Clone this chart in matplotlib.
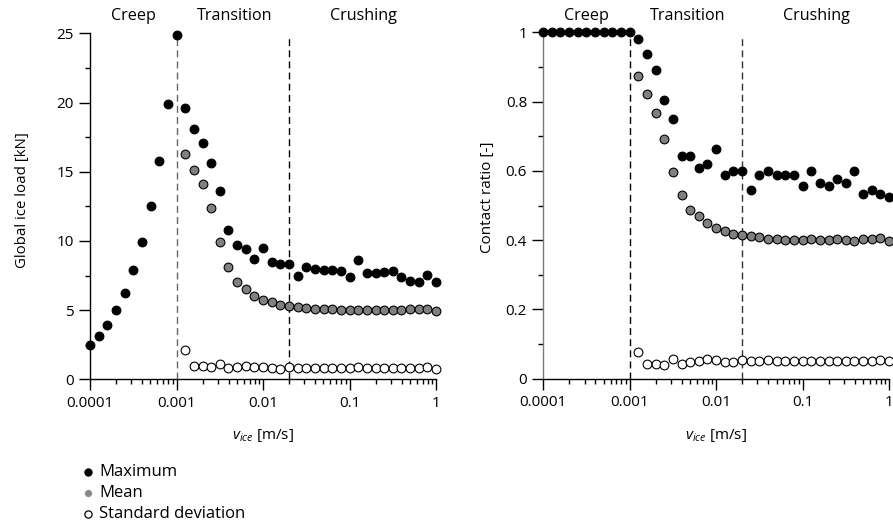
import matplotlib
matplotlib.use("Agg")
import matplotlib.pyplot as plt
from matplotlib.lines import Line2D
from matplotlib.ticker import FixedLocator, LogLocator, NullFormatter, FixedFormatter

plt.rcParams['font.family'] = ['Open Sans', 'DejaVu Sans']
plt.rcParams['font.size'] = 11
plt.rcParams['mathtext.fontset'] = 'custom'
plt.rcParams['mathtext.it'] = 'Open Sans:italic'
plt.rcParams['mathtext.rm'] = 'Open Sans'

# Ice speeds [m/s] of the test series
speeds = [1.00e-4, 1.26e-4, 1.58e-4, 2.00e-4, 2.51e-4, 3.16e-4, 3.98e-4, 5.01e-4, 6.31e-4, 7.94e-4,
          1.00e-3, 1.26e-3, 1.58e-3, 2.00e-3, 2.51e-3, 3.16e-3, 3.98e-3, 5.01e-3, 6.31e-3, 7.94e-3,
          1.00e-2, 1.26e-2, 1.58e-2, 2.00e-2, 2.51e-2, 3.16e-2, 3.98e-2, 5.01e-2, 6.31e-2, 7.94e-2,
          1.00e-1, 1.26e-1, 1.58e-1, 2.00e-1, 2.51e-1, 3.16e-1, 3.98e-1, 5.01e-1, 6.31e-1, 7.94e-1,
          1.0]
speeds_dyn = speeds[11:]   # speeds with mean / std statistics

# Global ice load [kN]
load_max = [2.5, 3.1, 3.9, 5.0, 6.25, 7.9, 9.9, 12.5, 15.8, 19.9, 24.9,
            19.6, 18.1, 17.1, 15.6, 13.6, 10.8, 9.7, 9.4, 8.7, 9.5,
            8.5, 8.3, 8.35, 7.5, 8.1, 8.0, 7.9, 7.9, 7.85, 7.4,
            8.6, 7.7, 7.7, 7.75, 7.85, 7.4, 7.1, 7.0, 7.55, 7.05]
load_mean = [16.3, 15.1, 14.1, 12.4, 9.95, 8.1, 7.0, 6.5, 6.0, 5.7,
             5.55, 5.4, 5.3, 5.2, 5.17, 5.1, 5.08, 5.05, 5.0, 4.98,
             5.0, 5.0, 4.98, 4.98, 5.0, 5.0, 5.05, 5.05, 5.1, 4.95]
load_std = [2.14, 0.96, 0.96, 0.87, 1.13, 0.79, 0.87, 0.94, 0.91, 0.87,
            0.79, 0.77, 0.87, 0.79, 0.82, 0.84, 0.82, 0.79, 0.79, 0.79,
            0.87, 0.79, 0.79, 0.79, 0.79, 0.79, 0.79, 0.79, 0.91, 0.74]

# Contact ratio [-]
cr_max = [1.0, 1.0, 1.0, 1.0, 1.0, 1.0, 1.0, 1.0, 1.0, 1.0, 1.0,
          0.98, 0.936, 0.892, 0.805, 0.751, 0.642, 0.642, 0.609, 0.621, 0.664,
          0.587, 0.599, 0.599, 0.545, 0.587, 0.599, 0.587, 0.587, 0.587, 0.555,
          0.599, 0.566, 0.555, 0.576, 0.566, 0.599, 0.534, 0.545, 0.534, 0.524]
cr_mean = [0.874, 0.821, 0.766, 0.691, 0.598, 0.531, 0.488, 0.471, 0.449, 0.434,
           0.427, 0.419, 0.416, 0.413, 0.41, 0.403, 0.404, 0.401, 0.40, 0.401,
           0.403, 0.40, 0.40, 0.403, 0.401, 0.398, 0.404, 0.403, 0.405, 0.398]
cr_std = [0.078, 0.042, 0.043, 0.040, 0.056, 0.043, 0.047, 0.052, 0.056, 0.053,
          0.048, 0.048, 0.055, 0.052, 0.052, 0.053, 0.052, 0.051, 0.051, 0.052,
          0.052, 0.051, 0.052, 0.052, 0.052, 0.051, 0.051, 0.052, 0.053, 0.050]

# Regime boundaries and labels
bounds = [1e-3, 2e-2]
regimes = ["Creep", "Transition", "Crushing"]
regime_x = [10 ** -3.5, 10 ** -2.33, 10 ** -0.84]

x_ticks = [1e-4, 1e-3, 1e-2, 1e-1, 1]
x_ticklabels = ["0.0001", "0.001", "0.01", "0.1", "1"]

legend_labels = ["Maximum", "Mean", "Standard deviation"]

W, H = 893, 529
fig = plt.figure(figsize=(W / 100, H / 100), dpi=100)

ax1 = fig.add_axes([90 / W, 1 - 379.3 / H, 346 / W, 346 / H])
ax2 = fig.add_axes([543.3 / W, 1 - 378.7 / H, 345.7 / W, 346.4 / H])

GRAY = "#808080"
ms = 6.3
mew = 0.8


def style_axes(ax, ymax, ymajor, yminor, ylabels, spine_color):
    ax.set_xscale("log")
    ax.set_xlim(1e-4, 1)
    ax.set_ylim(0, ymax)
    for s in ("top", "right"):
        ax.spines[s].set_visible(False)
    ax.spines["left"].set_color(spine_color)
    ax.spines["left"].set_linewidth(1.0)
    ax.spines["bottom"].set_linewidth(1.0)
    ax.xaxis.set_major_locator(FixedLocator(x_ticks))
    ax.xaxis.set_major_formatter(FixedFormatter(x_ticklabels))
    ax.xaxis.set_minor_locator(LogLocator(base=10, subs=range(2, 10), numticks=20))
    ax.xaxis.set_minor_formatter(NullFormatter())
    ax.yaxis.set_major_locator(FixedLocator(ymajor))
    ax.yaxis.set_major_formatter(FixedFormatter(ylabels))
    ax.yaxis.set_minor_locator(FixedLocator(yminor))
    ax.tick_params(which="major", direction="out", length=7.7, width=1.0,
                   color="black", labelsize=11, pad=4)
    ax.tick_params(which="minor", direction="out", length=3.6, width=1.0, color="black")
    ax.set_facecolor("none")


style_axes(ax1, 25, [0, 5, 10, 15, 20, 25], [2.5, 7.5, 12.5, 17.5, 22.5],
           ["0", "5", "10", "15", "20", "25"], "black")
style_axes(ax2, 1, [0, 0.2, 0.4, 0.6, 0.8, 1.0], [0.1, 0.3, 0.5, 0.7, 0.9],
           ["0", "0.2", "0.4", "0.6", "0.8", "1"], "#7a7a7a")

# Regime boundaries
dash = (0, (5, 3))
ax1.axvline(bounds[0], ymin=0, ymax=1, color="#666666", lw=1.0, ls=dash, zorder=1)
ax1.axvline(bounds[1], ymin=0, ymax=0.987, color="black", lw=1.0, ls=dash, zorder=1)
ax2.axvline(bounds[0], ymin=0, ymax=1, color="black", lw=1.0, ls=dash, zorder=1)
ax2.axvline(bounds[1], ymin=0, ymax=0.99, color="#333333", lw=1.0, ls=dash, zorder=1)

for ax, yt in ((ax1, 1.051), (ax2, 1.048)):
    for name, xr in zip(regimes, regime_x):
        ax.text(xr, yt, name, transform=ax.get_xaxis_transform(),
                ha="center", va="center", fontsize=11.6)


def scatter(ax, x, y, face):
    ax.plot(x, y, ls="none", marker="o", ms=ms, mfc=face, mec="black",
            mew=mew, clip_on=False, zorder=3)


scatter(ax1, speeds, load_max, "black")
scatter(ax1, speeds_dyn, load_mean, GRAY)
scatter(ax1, speeds_dyn, load_std, "white")

scatter(ax2, speeds, cr_max, "black")
scatter(ax2, speeds_dyn, cr_mean, GRAY)
scatter(ax2, speeds_dyn, cr_std, "white")

# Axis labels
xlab = r"$v_{ice}$ [m/s]"
for ax in (ax1, ax2):
    ax.set_xlabel(xlab, fontsize=11, va="center")
    ax.xaxis.set_label_coords(0.5, -0.163)
ax1.set_ylabel("Global ice load [kN]", fontsize=10.8, va="center")
ax1.yaxis.set_label_coords((22.5 - 90) / 346, (379.3 - 200) / 346)
ax2.set_ylabel("Contact ratio [-]", fontsize=11, va="center")
ax2.yaxis.set_label_coords((487.5 - 543.3) / 345.7, (378.7 - 197) / 346.4)

# Legend (drawn in figure pixel coordinates)
legend_style = [
    dict(mfc="black", mec="black", mew=0.8),
    dict(mfc="#8a8a8a", mec="#8a8a8a", mew=0.0),
    dict(mfc="white", mec="black", mew=0.9),
]
for i, (lab, st) in enumerate(zip(legend_labels, legend_style)):
    yp = 1 - (471.7 + 21.3 * i) / H
    fig.add_artist(Line2D([88 / W], [yp], transform=fig.transFigure, ls="none",
                          marker="o", ms=5.2, **st))
    fig.text(99 / W, yp, lab, ha="left", va="center", fontsize=12)

fig.savefig("out.png", dpi=100)
